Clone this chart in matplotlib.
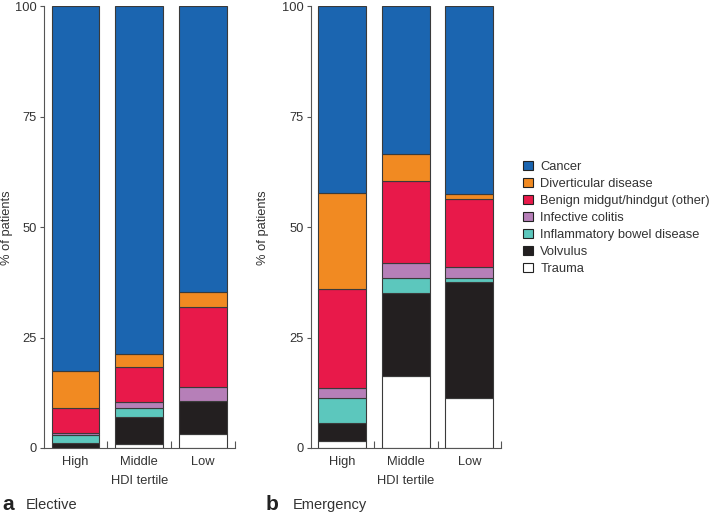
import numpy as np
import matplotlib
matplotlib.use('Agg')
import matplotlib.pyplot as plt
from matplotlib.patches import Patch

plt.rcParams['font.family'] = ['Liberation Sans', 'DejaVu Sans']

tertiles = ['High', 'Middle', 'Low']
causes = ['Trauma', 'Volvulus', 'Inflammatory bowel disease', 'Infective colitis',
          'Benign midgut/hindgut (other)', 'Diverticular disease', 'Cancer']
colors = ['#ffffff', '#231f20', '#5cc7bd', '#b67fb8', '#e8194a', '#f18a22', '#1b65b0']

# % of patients per cause, listed High / Middle / Low
elective_trauma = [0.0, 1.0, 3.2]
elective_volvulus = [1.2, 6.1, 7.4]
elective_ibd = [1.8, 2.0, 0.0]
elective_colitis = [0.5, 1.4, 3.3]
elective_benign = [5.6, 7.9, 18.0]
elective_divert = [8.3, 2.9, 3.5]
elective_cancer = [82.6, 78.7, 64.6]

emergency_trauma = [1.6, 16.3, 11.4]
emergency_volvulus = [4.0, 18.7, 26.1]
emergency_ibd = [5.7, 3.6, 1.1]
emergency_colitis = [2.4, 3.2, 2.3]
emergency_benign = [22.2, 18.6, 15.5]
emergency_divert = [21.8, 6.2, 1.2]
emergency_cancer = [42.3, 33.4, 42.4]

elective = [elective_trauma, elective_volvulus, elective_ibd, elective_colitis,
            elective_benign, elective_divert, elective_cancer]
emergency = [emergency_trauma, emergency_volvulus, emergency_ibd, emergency_colitis,
             emergency_benign, emergency_divert, emergency_cancer]

fig = plt.figure(figsize=(7.09, 5.15), dpi=100)
ax_a = fig.add_axes([0.0614, 0.1301, 0.2700, 0.8573])
ax_b = fig.add_axes([0.4380, 0.1301, 0.2687, 0.8573])

txt = '#333333'
fs = 9.3
x = np.arange(1, 4)

def draw_panel(ax, data, label_x):
    bottom = np.zeros(3)
    for vals, c in zip(data, colors):
        vals = np.array(vals)
        ax.bar(x, vals, width=0.75, bottom=bottom, color=c,
               edgecolor='#3a3a3a', linewidth=0.8)
        bottom += vals
    ax.set_xlim(0.5, 3.5)
    ax.set_ylim(0, 100)
    ax.set_yticks([0, 25, 50, 75, 100])
    ax.set_xticks(x)
    ax.set_xticklabels(tertiles)
    ax.set_xticks([1.5, 2.5, 3.5], minor=True)
    ax.tick_params(axis='x', which='major', length=0, pad=6, labelsize=fs, labelcolor=txt)
    ax.tick_params(axis='x', which='minor', direction='in', length=5, width=0.8, color='#555555')
    ax.tick_params(axis='y', direction='out', length=3, width=0.8, color='#555555',
                   labelsize=fs, labelcolor=txt, pad=2)
    for s in ['top', 'right']:
        ax.spines[s].set_visible(False)
    for s in ['left', 'bottom']:
        ax.spines[s].set_color('#555555')
        ax.spines[s].set_linewidth(0.8)
    ax.set_xlabel('HDI tertile', fontsize=fs, color=txt, labelpad=5)
    ax.set_ylabel('% of patients', fontsize=fs, color=txt)
    ax.yaxis.set_label_coords(label_x, 0.5)

draw_panel(ax_a, elective, -0.16)
draw_panel(ax_b, emergency, -0.22)

fig.text(2 / 709, 1 - 505 / 515, 'a', fontsize=15, fontweight='bold', va='center', color='#222222')
fig.text(26 / 709, 1 - 505 / 515, 'Elective', fontsize=10.5, va='center', color=txt)
fig.text(266 / 709, 1 - 505 / 515, 'b', fontsize=15, fontweight='bold', va='center', color='#222222')
fig.text(293 / 709, 1 - 505 / 515, 'Emergency', fontsize=10.5, va='center', color=txt)

handles = [Patch(facecolor=c, edgecolor='#222222', linewidth=0.8, label=l)
           for c, l in zip(colors[::-1], causes[::-1])]
leg = fig.legend(handles=handles, loc='upper left', bbox_to_anchor=(0.7377, 0.688),
                 frameon=False, fontsize=fs, borderpad=0, borderaxespad=0,
                 handlelength=0.78, handleheight=0.78, handletextpad=0.55,
                 labelspacing=0.36)
for t in leg.get_texts():
    t.set_color(txt)

fig.savefig('out.png', dpi=100)
